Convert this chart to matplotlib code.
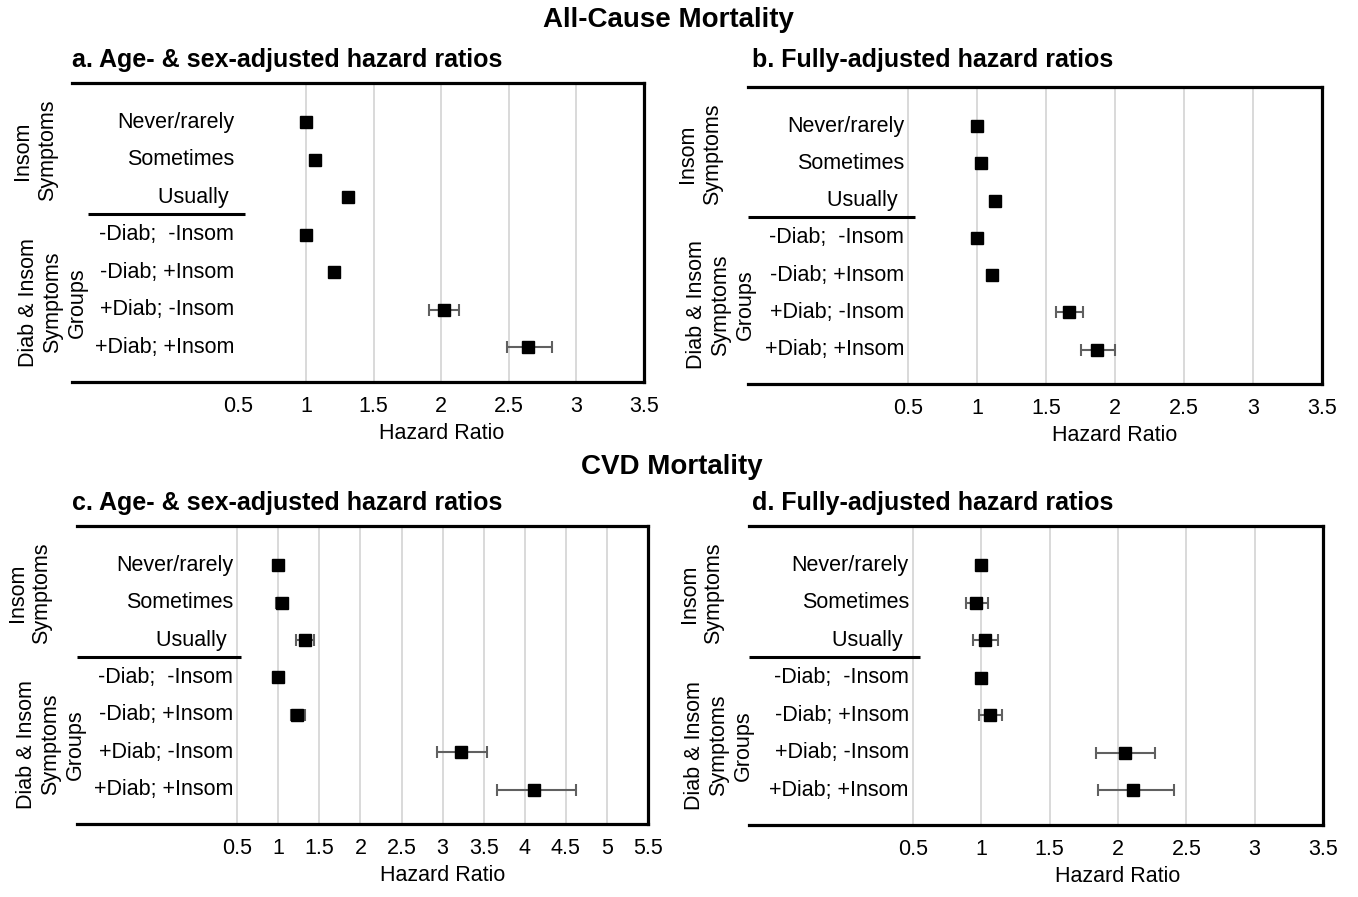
import matplotlib
matplotlib.use('Agg')
import matplotlib.pyplot as plt

plt.rcParams['font.family'] = ['Liberation Sans', 'DejaVu Sans']

# row labels (same for every panel)
row_labels = ['Never/rarely', 'Sometimes', 'Usually ', '-Diab;  -Insom', '-Diab; +Insom',
              '+Diab; -Insom', '+Diab; +Insom']

# a. all-cause, age & sex adjusted
hr_a = [1.0, 1.07, 1.31, 1.0, 1.21, 2.02, 2.645]
lo_a = [1.0, 1.04, 1.28, 1.0, 1.18, 1.91, 2.485]
hi_a = [1.0, 1.10, 1.34, 1.0, 1.24, 2.13, 2.82]

# b. all-cause, fully adjusted
hr_b = [1.0, 1.03, 1.13, 1.0, 1.11, 1.67, 1.87]
lo_b = [1.0, 1.00, 1.10, 1.0, 1.08, 1.57, 1.75]
hi_b = [1.0, 1.06, 1.16, 1.0, 1.14, 1.77, 2.00]

# c. CVD, age & sex adjusted
hr_c = [1.0, 1.04, 1.33, 1.0, 1.23, 3.22, 4.11]
lo_c = [1.0, 0.97, 1.22, 1.0, 1.15, 2.93, 3.66]
hi_c = [1.0, 1.10, 1.44, 1.0, 1.32, 3.54, 4.62]

# d. CVD, fully adjusted
hr_d = [1.0, 0.96, 1.03, 1.0, 1.06, 2.05, 2.11]
lo_d = [1.0, 0.89, 0.94, 1.0, 0.98, 1.84, 1.85]
hi_d = [1.0, 1.05, 1.12, 1.0, 1.15, 2.27, 2.41]

ticks_35 = [0.5, 1, 1.5, 2, 2.5, 3, 3.5]
ticks_55 = [0.5, 1, 1.5, 2, 2.5, 3, 3.5, 4, 4.5, 5, 5.5]

W, H = 1358, 897
fig = plt.figure(figsize=(W / 100, H / 100), dpi=100)


def px_axes(left, top, right, bottom):
    return fig.add_axes([left / W, 1 - bottom / H, (right - left) / W, (bottom - top) / H])


def draw_panel(ax, hr, lo, hi, ticks, xmin, sep_start, grid0, off_insom, off_diab):
    n = len(hr)
    ys = list(range(n))
    xmax = ticks[-1]
    ax.set_xlim(xmin, xmax)
    ax.set_ylim(6.92, -1.05)

    for t in ticks:
        if t == ticks[0] and not grid0:
            continue
        if t == xmax:
            continue
        ax.axvline(t, color='#d9d9d9', lw=1.4, zorder=0)

    xerr = [[h - l for h, l in zip(hr, lo)], [u - h for h, u in zip(hr, hi)]]
    ax.errorbar(hr, ys, xerr=xerr, fmt='none', ecolor='#606060', elinewidth=1.5,
                capsize=4, capthick=1.5, zorder=2)
    ax.plot(hr, ys, 's', color='black', markersize=8.5, zorder=3)

    for y, lab in zip(ys, row_labels):
        ax.annotate(lab, xy=(0.5, y), xytext=(-3, 0), textcoords='offset points',
                    ha='right', va='center', fontsize=15.5)

    ax.plot([sep_start, 0.55], [2.45, 2.45], color='black', lw=2.2, solid_capstyle='butt')

    ax.annotate('Insom\nSymptoms', xy=(0, 0.75), xycoords=('axes fraction', 'data'),
                xytext=(off_insom, 0), textcoords='offset points', rotation=90,
                ha='center', va='center', fontsize=15.5, multialignment='center',
                annotation_clip=False)
    ax.annotate('Diab & Insom\nSymptoms\nGroups', xy=(0, 4.8), xycoords=('axes fraction', 'data'),
                xytext=(off_diab, 0), textcoords='offset points', rotation=90,
                ha='center', va='center', fontsize=15.5, multialignment='center',
                annotation_clip=False)

    ax.set_yticks([])
    ax.set_xticks(ticks)
    ax.set_xticklabels(['%g' % t for t in ticks])
    ax.tick_params(axis='x', length=0, pad=10, labelsize=15.5)

    ax.spines['left'].set_visible(False)
    for s in ['top', 'right', 'bottom']:
        ax.spines[s].set_linewidth(2.3)
        ax.spines[s].set_color('black')

    ax.annotate('Hazard Ratio', xy=((0.5 + xmax) / 2, 0), xycoords=('data', 'axes fraction'),
                xytext=(0, -37), textcoords='offset points', ha='center', va='center',
                fontsize=15.5)


ax_a = px_axes(72, 83, 644, 382)
draw_panel(ax_a, hr_a, lo_a, hi_a, ticks_35, -0.73, -0.61, False, -26.6, -13.7)

ax_b = px_axes(748, 87, 1322, 384)
draw_panel(ax_b, hr_b, lo_b, hi_b, ticks_35, -0.66, -0.66, True, -34.5, -19.4)

ax_c = px_axes(77, 526, 648, 824)
draw_panel(ax_c, hr_c, lo_c, hi_c, ticks_55, -1.45, -1.45, True, -34, -18.7)

ax_d = px_axes(749, 526, 1323, 825)
draw_panel(ax_d, hr_d, lo_d, hi_d, ticks_35, -0.7, -0.7, True, -34, -21.6)

fig.text(668 / W, 1 - 20 / H, 'All-Cause Mortality', ha='center', va='center',
         fontsize=20, fontweight='bold')
fig.text(672 / W, 1 - 467 / H, 'CVD Mortality', ha='center', va='center',
         fontsize=20, fontweight='bold')

fig.text(72 / W, 1 - 60 / H, 'a. Age- & sex-adjusted hazard ratios', ha='left', va='center',
         fontsize=18, fontweight='bold')
fig.text(752 / W, 1 - 60 / H, 'b. Fully-adjusted hazard ratios', ha='left', va='center',
         fontsize=18, fontweight='bold')
fig.text(72 / W, 1 - 503 / H, 'c. Age- & sex-adjusted hazard ratios', ha='left', va='center',
         fontsize=18, fontweight='bold')
fig.text(752 / W, 1 - 503 / H, 'd. Fully-adjusted hazard ratios', ha='left', va='center',
         fontsize=18, fontweight='bold')

fig.savefig('out.png', dpi=100)
